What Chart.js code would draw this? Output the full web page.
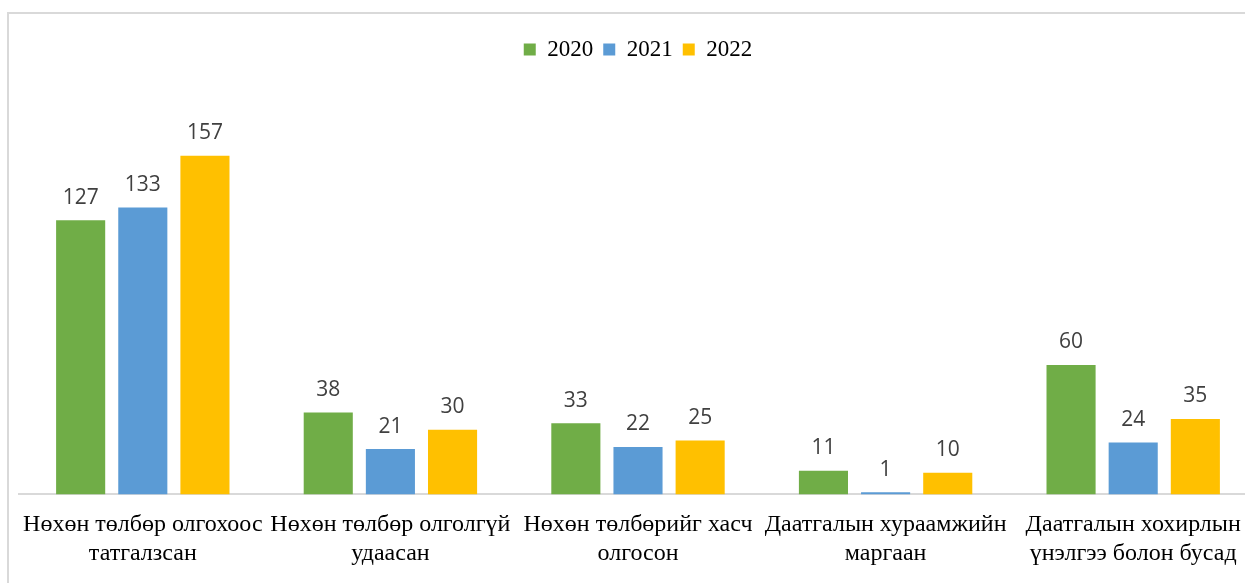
<!DOCTYPE html>
<html>
<head>
<meta charset="utf-8">
<script src="https://cdn.jsdelivr.net/npm/chart.js@4"></script>
<style>
  html, body { margin: 0; padding: 0; background: #fff; overflow: hidden; }
  #wrap {
    position: absolute; left: 7px; top: 12px;
    width: 1265px; height: 571px;
    border-left: 2px solid #d9d9d9; border-top: 2px solid #d9d9d9;
    box-sizing: border-box;
  }
</style>
</head>
<body>
<div id="wrap"><canvas id="chart"></canvas></div>
<script>
const categories = [
  ["Нөхөн төлбөр олгохоос", "татгалзсан"],
  ["Нөхөн төлбөр олголгүй", "удаасан"],
  ["Нөхөн төлбөрийг хасч", "олгосон"],
  ["Даатгалын хураамжийн", "маргаан"],
  ["Даатгалын хохирлын", "үнэлгээ болон бусад"]
];
const values2020 = [127, 38, 33, 11, 60];
const values2021 = [133, 21, 22, 1, 24];
const values2022 = [157, 30, 25, 10, 35];

// simple value labels above the bars
const barLabels = {
  id: "barLabels",
  afterDatasetsDraw(chart) {
    const ctx = chart.ctx;
    ctx.save();
    ctx.font = "21px 'Open Sans'";
    ctx.fillStyle = "#404040";
    ctx.textAlign = "center";
    ctx.textBaseline = "bottom";
    chart.data.datasets.forEach((ds, i) => {
      chart.getDatasetMeta(i).data.forEach((bar, j) => {
        ctx.fillText(ds.data[j], bar.x, bar.y - 12);
      });
    });
    ctx.restore();
  }
};

// extra room under the legend
const legendGap = {
  id: "legendGap",
  beforeInit(chart) {
    const fit = chart.legend.fit;
    chart.legend.fit = function () {
      fit.bind(chart.legend)();
      this.height += 35;
    };
  }
};

new Chart(document.getElementById("chart"), {
  type: "bar",
  data: {
    labels: categories,
    datasets: [
      { label: "2020", data: values2020, backgroundColor: "#70ad47" },
      { label: "2021", data: values2021, backgroundColor: "#5b9bd5" },
      { label: "2022", data: values2022, backgroundColor: "#ffc000" }
    ]
  },
  options: {
    responsive: true,
    maintainAspectRatio: false,
    animation: false,
    layout: { padding: { left: 10, right: 15, top: 14, bottom: 7 } },
    datasets: {
      bar: { categoryPercentage: 0.753, barPercentage: 0.79 }
    },
    scales: {
      y: { display: false, min: 0, max: 180 },
      x: {
        grid: { display: false },
        border: { color: "#d9d9d9", width: 2 },
        ticks: {
          color: "#000",
          font: { family: "'Liberation Serif'", size: 24, lineHeight: 1.2 },
          maxRotation: 0,
          autoSkip: false,
          padding: 8
        }
      }
    },
    plugins: {
      legend: {
        position: "top",
        labels: {
          color: "#000",
          font: { family: "'Liberation Serif'", size: 23 },
          boxWidth: 12,
          boxHeight: 12,
          padding: 10
        }
      },
      tooltip: { enabled: false }
    }
  },
  plugins: [barLabels, legendGap]
});
</script>
</body>
</html>
